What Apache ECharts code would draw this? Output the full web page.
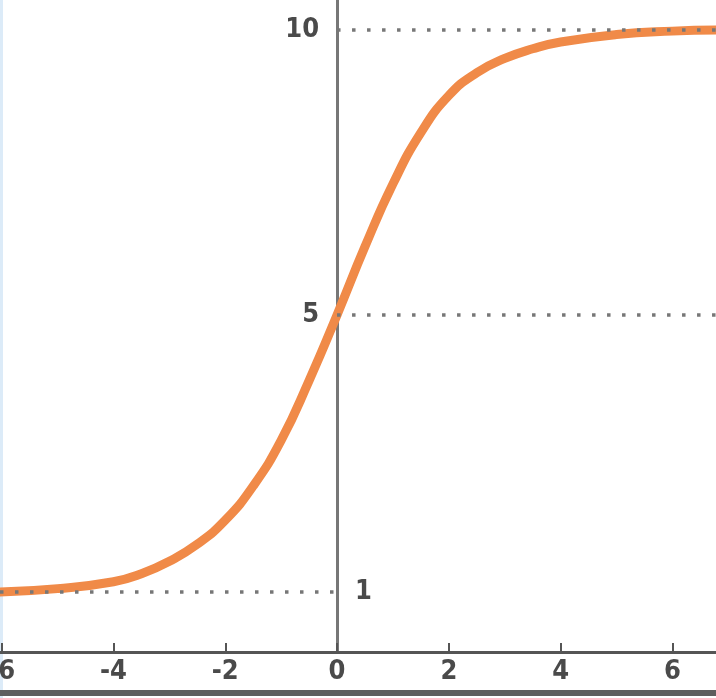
<!DOCTYPE html>
<html>
<head>
<meta charset="utf-8">
<script src="https://cdn.jsdelivr.net/npm/echarts@6/dist/echarts.min.js"></script>
<style>
    html, body { margin: 0; padding: 0; background: #fff; }
    #chart { width: 716px; height: 698px; }
</style>
</head>
<body>
<div id="chart"></div>
<script>
// 曲线上读出的点 (x, y)
const xValues = [-6.03, -5, -4, -3.5, -3, -2.5, -2, -1.5, -1, -0.5, 0, 0.5, 1, 1.5, 2, 2.5, 3, 3.5, 4, 5, 6, 6.78];
const yValues = [0.14, 0.20, 0.32, 0.46, 0.68, 0.98, 1.40, 2.0, 2.8, 3.85, 5.0, 6.2, 7.3, 8.2, 8.85, 9.25, 9.5, 9.67, 9.79, 9.92, 9.98, 10.0];
const xTicks = [-6, -4, -2, 0, 2, 4, 6];
// 虚线参考值和标签 (下面那条线标的是 "1")
const refValues = [10, 5, 0.14];
const refLabels = ["10", "5", "1"];

const labelFont = "'Liberation Sans Narrow', 'DejaVu Sans Condensed', sans-serif";

const chart = echarts.init(document.getElementById("chart"));

const dotted = { color: "#777", width: 3.5, type: [3.5, 11.5] };

chart.setOption({
    animation: false,
    grid: { left: 0, right: 0, top: 0, bottom: 46, outerBoundsMode: "none" },
    xAxis: {
        type: "value",
        min: -6.03,
        max: 6.78,
        splitLine: { show: false },
        axisLine: { onZero: false, lineStyle: { color: "#555", width: 3 } },
        axisTick: { inside: true, length: 9, lineStyle: { color: "#555", width: 2 }, customValues: xTicks },
        axisLabel: {
            customValues: xTicks,
            margin: 6,
            color: "#4a4a4a",
            fontSize: 27,
            fontWeight: "bold",
            fontFamily: labelFont
        }
    },
    yAxis: {
        type: "value",
        min: -0.912,
        max: 10.526,
        splitLine: { show: false },
        axisLine: { show: true, onZero: true, lineStyle: { color: "#777", width: 3 } },
        axisTick: { show: false },
        axisLabel: { show: false }
    },
    graphic: [
        { type: "rect", left: 0, top: 0, shape: { width: 3, height: 698 }, style: { fill: "#dcebf8" } },
        { type: "rect", left: 0, top: 690, shape: { width: 716, height: 6 }, style: { fill: "#5e5e5e" } }
    ],
    series: [
        {
            type: "line",
            data: [],
            z: 1,
            markLine: {
                silent: true,
                symbol: "none",
                lineStyle: dotted,
                label: {
                    show: true,
                    formatter: "{b}",
                    color: "#4a4a4a",
                    fontSize: 27,
                    fontWeight: "bold",
                    fontFamily: labelFont,
                    distance: 18
                },
                data: [
                    [{ coord: [0, refValues[0]], name: refLabels[0], label: { position: "start" } }, { coord: [6.78, refValues[0]] }],
                    [{ coord: [0, refValues[1]], name: refLabels[1], label: { position: "start" } }, { coord: [6.78, refValues[1]] }],
                    [{ coord: [-6.03, refValues[2]], name: refLabels[2], label: { position: "end" } }, { coord: [0, refValues[2]] }]
                ]
            }
        },
        {
            type: "line",
            z: 3,
            data: xValues.map((x, i) => [x, yValues[i]]),
            smooth: true,
            showSymbol: false,
            lineStyle: { color: "#F08A48", width: 9, cap: "round" }
        }
    ]
});
</script>
</body>
</html>
